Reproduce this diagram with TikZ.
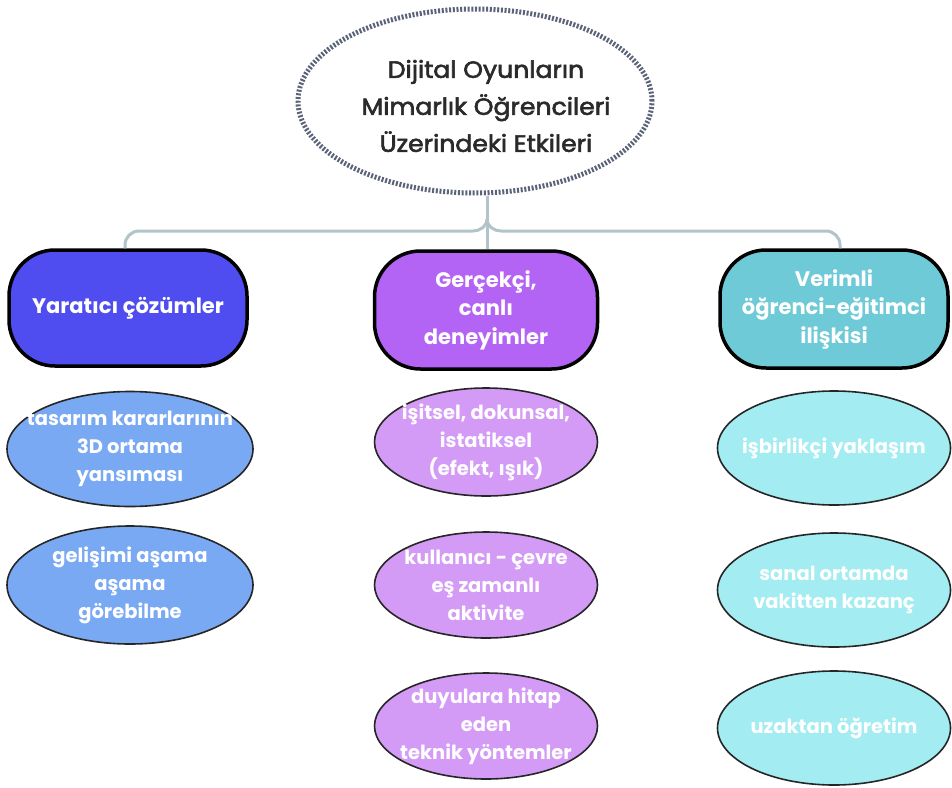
\documentclass[tikz,border=0pt]{standalone}
\usepackage{fontspec}
\setmainfont{Poppins}
\newfontfamily\titlefont[FakeBold=2.5, FakeStretch=1.07]{Poppins}
\usetikzlibrary{shapes.geometric}
\definecolor{dotc}{HTML}{5A6378}
\definecolor{linec}{HTML}{B0C4CA}
\definecolor{txt}{HTML}{2A2A2A}
\definecolor{hA}{HTML}{504DF0}
\definecolor{hB}{HTML}{B464F5}
\definecolor{hC}{HTML}{6ECAD6}
\definecolor{sA}{HTML}{7AA9F3}
\definecolor{sB}{HTML}{D49BF6}
\definecolor{sC}{HTML}{A2ECF2}
\begin{document}
\begin{tikzpicture}[x=1pt,y=-1pt,
  titleell/.style={ellipse, draw=dotc, line width=5pt, dash pattern=on 2pt off 1.7pt,
    minimum width=354pt, minimum height=184pt, inner sep=0pt},
  titletext/.style={align=center, text=txt, font=\titlefont\fontsize{23.5}{37}\selectfont},
  hdr/.style={draw=black, line width=3.5pt, rounded corners=46pt, inner sep=0pt,
    align=center, text=white, font=\bfseries\fontsize{21}{28.5}\selectfont},
  sub/.style={ellipse, draw=black!85, line width=1.6pt, inner sep=0pt},
  subtext/.style={align=center, text=white, inner sep=0pt, font=\bfseries\fontsize{19.5}{28}\selectfont},
  conn/.style={draw=linec, line width=3pt, rounded corners=14pt}
]
\useasboundingbox[fill=white] (0,0) rectangle (952,787);

% title
\node[titleell] (t) at (475,101) {};
\node[titletext] (tt) at (486,106) {Dijital Oyunların\\Mimarlık Öğrencileri\\Üzerindeki Etkileri};

% headers
\node[hdr, fill=hA, minimum width=238pt, minimum height=116pt] (hl) at (128,308) {Yaratıcı çözümler};
\node[hdr, fill=hB, minimum width=223pt, minimum height=118pt] (hm) at (486,310) {Gerçekçi,\\canlı\\deneyimler};
\node[hdr, fill=hC, minimum width=228pt, minimum height=118pt] (hr) at (834,309) {Verimli\\öğrenci-eğitimci\\ilişkisi};

% connectors
\coordinate (jl) at (473,231);
\coordinate (jr) at (501,231);
\coordinate (jc) at (487,219);
\draw[conn] (t.south -| jc) -- (hm.north -| jc);
\draw[conn] (hl.north -| 125,0) |- (jl);
\draw[conn] (hr.north -| 840,0) |- (jr);
\draw[draw=linec, line width=3pt] (jl) to[out=0,in=-90] (jc);
\draw[draw=linec, line width=3pt] (jr) to[out=180,in=-90] (jc);

% left column
\node[sub, fill=sA, minimum width=246pt, minimum height=115pt,
  label={[subtext]center:{tasarım kararlarının\\3D ortama\\yansıması}}] (l1) at (130,449) {};
\node[sub, fill=sA, minimum width=246pt, minimum height=118pt,
  label={[subtext]center:{gelişimi aşama\\aşama\\görebilme}}] (l2) at (130,585) {};

% middle column
\node[sub, fill=sB, minimum width=223pt, minimum height=108pt,
  label={[subtext]center:{işitsel, dokunsal,\\istatiksel\\(efekt, ışık)}}] (m1) at (486,442) {};
\node[sub, fill=sB, minimum width=223pt, minimum height=106pt,
  label={[subtext]center:{kullanıcı - çevre\\eş zamanlı\\aktivite}}] (m2) at (486,585) {};
\node[sub, fill=sB, minimum width=223pt, minimum height=106pt,
  label={[subtext]center:{duyulara hitap\\eden\\teknik yöntemler}}] (m3) at (486,726) {};

% right column
\node[sub, fill=sC, minimum width=233pt, minimum height=114pt,
  label={[subtext]center:{işbirlikçi yaklaşım}}] (r1) at (834,448) {};
\node[sub, fill=sC, minimum width=233pt, minimum height=114pt,
  label={[subtext]center:{sanal ortamda\\vakitten kazanç}}] (r2) at (834,590) {};
\node[sub, fill=sC, minimum width=233pt, minimum height=114pt,
  label={[subtext]center:{uzaktan öğretim}}] (r3) at (834,728) {};
\end{tikzpicture}
\end{document}
